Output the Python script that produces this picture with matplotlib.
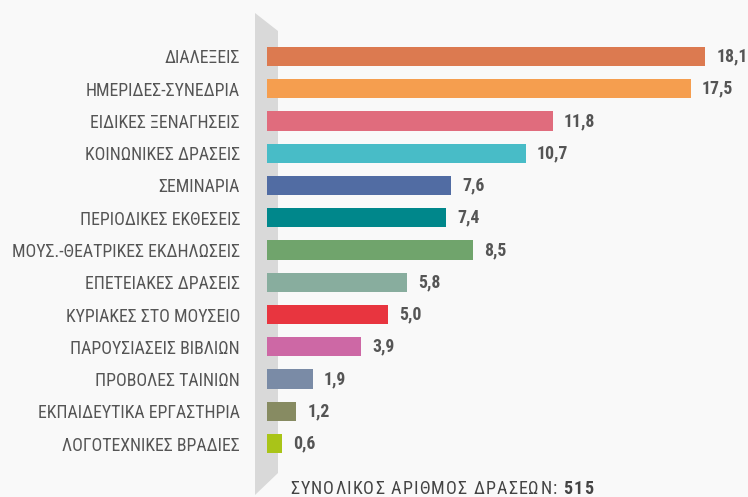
import matplotlib
matplotlib.use("Agg")
import matplotlib.pyplot as plt
from matplotlib.patches import Polygon

# data
categories = [
    "ΔΙΑΛΕΞΕΙΣ",
    "ΗΜΕΡΙΔΕΣ-ΣΥΝΕΔΡΙΑ",
    "ΕΙΔΙΚΕΣ ΞΕΝΑΓΗΣΕΙΣ",
    "ΚΟΙΝΩΝΙΚΕΣ ΔΡΑΣΕΙΣ",
    "ΣΕΜΙΝΑΡΙΑ",
    "ΠΕΡΙΟΔΙΚΕΣ ΕΚΘΕΣΕΙΣ",
    "ΜΟΥΣ.-ΘΕΑΤΡΙΚΕΣ ΕΚΔΗΛΩΣΕΙΣ",
    "ΕΠΕΤΕΙΑΚΕΣ ΔΡΑΣΕΙΣ",
    "ΚΥΡΙΑΚΕΣ ΣΤΟ ΜΟΥΣΕΙΟ",
    "ΠΑΡΟΥΣΙΑΣΕΙΣ ΒΙΒΛΙΩΝ",
    "ΠΡΟΒΟΛΕΣ ΤΑΙΝΙΩΝ",
    "ΕΚΠΑΙΔΕΥΤΙΚΑ ΕΡΓΑΣΤΗΡΙΑ",
    "ΛΟΓΟΤΕΧΝΙΚΕΣ ΒΡΑΔΙΕΣ",
]
values = [18.1, 17.5, 11.8, 10.7, 7.6, 7.4, 8.5, 5.8, 5.0, 3.9, 1.9, 1.2, 0.6]
colors = ["#dc7a50", "#f59e4f", "#e06c7d", "#48bcc7", "#516ca3", "#00878b",
          "#70a46c", "#88ad9e", "#e8353f", "#cd68a5", "#7a8ba6", "#878b62", "#a9c418"]
total = 515

plt.rcParams["font.family"] = ["Roboto Condensed", "DejaVu Sans"]
plt.rcParams["font.stretch"] = "condensed"

W, H = 748, 497
BG = "#f9f9f9"
TXT = "#555555"

fig = plt.figure(figsize=(W / 100, H / 100), dpi=100, facecolor=BG)

def px(x, y):
    return (x / W, 1 - y / H)

# grey slanted band behind the bar start
band = Polygon([px(255, 13), px(278, 31), px(278, 473), px(255, 495)],
               closed=True, transform=fig.transFigure,
               facecolor="#d9d9d9", edgecolor="none", zorder=-5)
fig.patches.append(band)

x0 = 267          # pixel where bars start
unit = 24.2       # pixels per value unit
top, step = 56.5, 32.25

ax = fig.add_axes([x0 / W, 0, 1 - x0 / W, 1], zorder=2)
ax.set_facecolor("none")
ypos = list(range(len(categories)))
ax.barh(ypos, values, height=0.59, color=colors, zorder=2)
ax.set_xlim(0, (W - x0) / unit)
ax.set_ylim((H - top) / step, -top / step)

ax.set_yticks(ypos, categories)
ax.set_xticks([])
ax.tick_params(axis="y", length=0, pad=19.4, labelsize=12.8, labelcolor=TXT)
for s in ax.spines.values():
    s.set_visible(False)

for i, v in enumerate(values):
    ax.annotate(f"{v:.1f}".replace(".", ","), (v, i), xytext=(8, 0),
                textcoords="offset points", va="center", ha="left",
                fontsize=12.8, fontweight="bold", color=TXT)

# footer with letter spacing
renderer = fig.canvas.get_renderer()
x, y = 290, 494
for s, weight in [("ΣΥΝΟΛΙΚΟΣ ΑΡΙΘΜΟΣ ΔΡΑΣΕΩΝ: ", "normal"), ("515", "bold")]:
    for ch in s:
        if ch == " ":
            x += 4 + 1.2
            continue
        t = fig.text(x / W, 1 - y / H, ch, fontsize=13, fontweight=weight,
                     color="#444444", va="baseline", ha="left")
        x += t.get_window_extent(renderer).width + 1.2

fig.savefig("out.png", dpi=100, facecolor=BG)
